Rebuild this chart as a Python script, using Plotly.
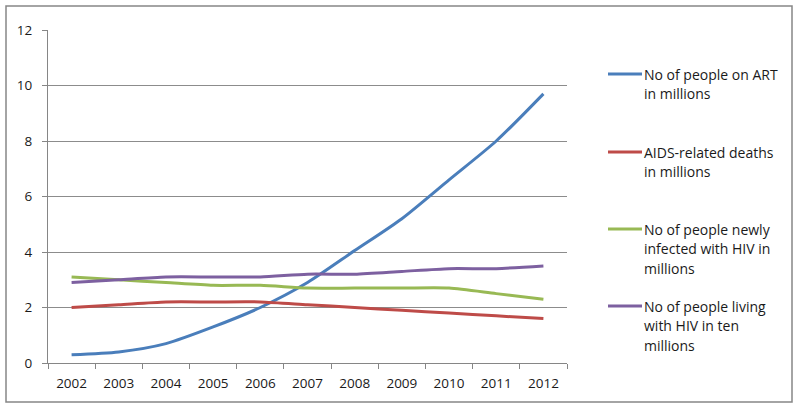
import plotly.graph_objects as go

years = ["2002", "2003", "2004", "2005", "2006", "2007", "2008", "2009", "2010", "2011", "2012"]
art = [0.3, 0.4, 0.7, 1.3, 2.0, 2.9, 4.05, 5.2, 6.6, 8.0, 9.7]
deaths = [2.0, 2.1, 2.2, 2.2, 2.2, 2.1, 2.0, 1.9, 1.8, 1.7, 1.6]
new_inf = [3.1, 3.0, 2.9, 2.8, 2.8, 2.7, 2.7, 2.7, 2.7, 2.5, 2.3]
living = [2.9, 3.0, 3.1, 3.1, 3.1, 3.2, 3.2, 3.3, 3.4, 3.4, 3.5]

series_values = [art, deaths, new_inf, living]
series_names = [
    ["No of people on ART", "in millions"],
    ["AIDS-related deaths", "in millions"],
    ["No of people newly", "infected with HIV in", "millions"],
    ["No of people living", "with HIV in ten", "millions"],
]
colors = ["#4A7EBB", "#BE4B48", "#98B954", "#7D60A0"]

FONT = "Open Sans"
TXT = "#1a1a1a"

# layout geometry (pixels)
W, H = 800, 408
L, R, T, B = 48, 233, 30, 45
pw, ph = W - L - R, H - T - B


def px_x(x):
    return (x - L) / pw


def px_y(y):
    return (H - B - y) / ph


fig = go.Figure()
for vals, names, col in zip(series_values, series_names, colors):
    fig.add_trace(go.Scatter(
        x=years, y=vals, mode="lines", name=" ".join(names),
        line=dict(color=col, width=3, shape="spline", smoothing=0.7),
        showlegend=False,
    ))

shapes = [
    dict(type="rect", xref="paper", yref="paper",
         x0=px_x(6), x1=px_x(792), y0=px_y(402), y1=px_y(6),
         line=dict(color="#868686", width=1.5), fillcolor="rgba(0,0,0,0)", layer="below"),
]
annotations = []
entry_tops = [74, 152, 229, 306]
for names, col, ytop in zip(series_names, colors, entry_tops):
    shapes.append(dict(type="line", xref="paper", yref="paper",
                       x0=px_x(608), x1=px_x(642), y0=px_y(ytop), y1=px_y(ytop),
                       line=dict(color=col, width=3)))
    for k, line in enumerate(names):
        annotations.append(dict(
            xref="paper", yref="paper", x=px_x(642), y=px_y(ytop + 19.5 * k),
            xanchor="left", yanchor="middle", text=line, showarrow=False,
            font=dict(family=FONT, size=14, color=TXT)))

fig.update_layout(
    width=W, height=H,
    margin=dict(l=L, r=R, t=T, b=B, pad=0),
    paper_bgcolor="white", plot_bgcolor="white",
    font=dict(family=FONT, size=13, color=TXT),
    shapes=shapes, annotations=annotations,
    xaxis=dict(type="category", range=[-0.5, 10.5], tickson="boundaries",
               ticks="outside", ticklen=5, tickcolor="#868686",
               showline=True, linecolor="#868686", linewidth=1,
               showgrid=False, ticklabelstandoff=8,
               tickfont=dict(family=FONT, size=13.5, color=TXT)),
    yaxis=dict(range=[0, 12], dtick=2, ticks="outside", ticklen=5, tickcolor="#868686",
               showline=True, linecolor="#868686", linewidth=1,
               showgrid=True, gridcolor="#8c8c8c", gridwidth=1, zeroline=False,
               ticklabelstandoff=7,
               tickfont=dict(family=FONT, size=13.5, color=TXT)),
)

fig.write_html("out.html", config={"displayModeBar": False},
               post_script="document.body.style.margin='0';")
